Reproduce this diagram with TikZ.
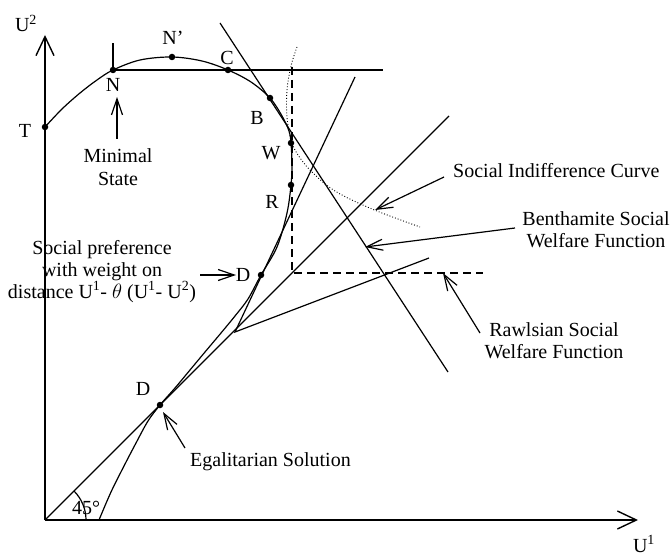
\documentclass[tikz,border=0pt]{standalone}
\usepackage{fontspec}
\setmainfont{Liberation Serif}
\usetikzlibrary{arrows.meta}
\begin{document}
\begin{tikzpicture}[x=1pt,y=-1pt,
  font=\fontsize{20}{22}\selectfont,
  ln/.style={line width=1.2pt},
  axis/.style={line width=1.6pt,-{Straight Barb[length=19pt,width=18pt,line width=1.4pt]}},
  lab/.style={line width=1.2pt,-{Straight Barb[length=16pt,width=11pt,line width=1.2pt]}},
  dot/.style={circle,fill,inner sep=0pt,minimum size=6.5pt},
  txt/.style={inner sep=0pt},
  dsh/.style={line width=1.3pt,dash pattern=on 8pt off 5pt},
  dtt/.style={line width=0.9pt,dash pattern=on 0.9pt off 2pt}]
\useasboundingbox (0,0) rectangle (671,556);

% key points
\coordinate (O) at (45,520);
\coordinate (Ytop) at (45,35);
\coordinate (Xend) at (638,520);
\coordinate (T) at (45,127);
\coordinate (N) at (113,70);
\coordinate (Ntop) at (113,43);
\coordinate (Np) at (172,57);
\coordinate (C) at (228,70);
\coordinate (B) at (270,98);
\coordinate (W) at (291,143);
\coordinate (R) at (291,185);
\coordinate (Du) at (261,275);
\coordinate (Dl) at (160,405);
\coordinate (K) at (235,332);
\coordinate (KU) at (355,77);
\coordinate (KR) at (429,258);
\coordinate (L45) at (449,116);
\coordinate (BL1) at (220,23);
\coordinate (BL2) at (448,372);
\coordinate (Hend) at (383,70);
\coordinate (VT) at (292,67);
\coordinate (Rc) at (292,273);
\coordinate (HR) at (483,273);

% axes
\draw[axis] (O) -- (Ytop);
\draw[axis] (O) -- (Xend);

% utility frontier
\draw[ln] plot[smooth,tension=0.55] coordinates {(45,127) (62,109) (80,93) (97,80) (113,70) (140,60) (172,57) (202,61) (228,70) (251,82) (270,98) (282,116) (289,131) (291,143) (292,165) (291,185) (287,213) (277,247) (261,275) (248,299) (235,316) (221,333) (205,352) (190,370) (175,388) (160,405) (148,421) (136,443) (124,466) (111,492) (99,520)};

% straight lines
\draw[ln] (N) -- (Ntop);
\draw[ln] (N) -- (Hend);
\draw[ln] (BL1) -- (BL2);
\draw[ln] (O) -- (L45);
\draw[ln] (KU) -- (K) -- (KR);
\draw[dsh] (VT) -- (Rc) -- (HR);
\draw[dtt] plot[smooth,tension=0.6] coordinates {(297,47) (291,66) (287,90) (287,117) (291,140) (298,155) (312,172) (335,191) (372,209) (420,227)};

% 45 degree arc
\coordinate (A0) at (86,520);
\draw[ln] (A0) arc[start angle=0,end angle=45,radius=41pt];

% dots
\foreach \p in {T,N,Np,C,B,W,R,Du,Dl} \node[dot] at (\p) {};

% point labels
\node[txt,anchor=base] (lU2) at (26,32) {U\textsuperscript{2}};
\node[txt,anchor=base] (lU1) at (644,552) {U\textsuperscript{1}};
\node[txt,anchor=base] (lT) at (25,138) {T};
\node[txt,anchor=base] (lN) at (113,92) {N};
\node[txt,anchor=base] (lNp) at (173,45) {N’};
\node[txt,anchor=base] (lC) at (227,65) {C};
\node[txt,anchor=base] (lB) at (257,125) {B};
\node[txt,anchor=base] (lW) at (271,160) {W};
\node[txt,anchor=base] (lR) at (272,208) {R};
\node[txt,anchor=base] (lDu) at (243,281) {D};
\node[txt,anchor=base] (lDl) at (143,395) {D};
\node[txt,anchor=base] (l45) at (86,514) {45°};

% text labels
\node[txt,anchor=base] (min1) at (118,163) {Minimal};
\node[txt,anchor=base] (min2) at (118,185) {State};
\node[txt,anchor=base] (sp1) at (102,254) {Social preference};
\node[txt,anchor=base] (sp2) at (102,276) {with weight on};
\node[txt,anchor=base] (sp3) at (102,298) {distance U\textsuperscript{1}- $\theta$ (U\textsuperscript{1}- U\textsuperscript{2})};
\node[txt,anchor=base west] (egal) at (190,466) {Egalitarian Solution};
\node[txt,anchor=base west] (sic) at (453,178) {Social Indifference Curve};
\node[txt,anchor=base] (ben1) at (596,225) {Benthamite Social};
\node[txt,anchor=base] (ben2) at (596,247) {Welfare Function};
\node[txt,anchor=base] (raw1) at (554,336) {Rawlsian Social};
\node[txt,anchor=base] (raw2) at (554,358) {Welfare Function};

% label arrows
\coordinate (aMinS) at (117,139); \coordinate (aMinE) at (117,97);
\coordinate (aDuS) at (200,275); \coordinate (aDuE) at (236,275);
\coordinate (aEgS) at (185,448); \coordinate (aEgE) at (163,412);
\coordinate (aSiS) at (444,177); \coordinate (aSiE) at (375,210);
\coordinate (aBeS) at (515,228); \coordinate (aBeE) at (365,247);
\coordinate (aRaS) at (480,333); \coordinate (aRaE) at (443,273);
\draw[lab] (aMinS) -- (aMinE);
\draw[lab] (aDuS) -- (aDuE);
\draw[lab] (aEgS) -- (aEgE);
\draw[lab] (aSiS) -- (aSiE);
\draw[lab] (aBeS) -- (aBeE);
\draw[lab] (aRaS) -- (aRaE);
\end{tikzpicture}
\end{document}
